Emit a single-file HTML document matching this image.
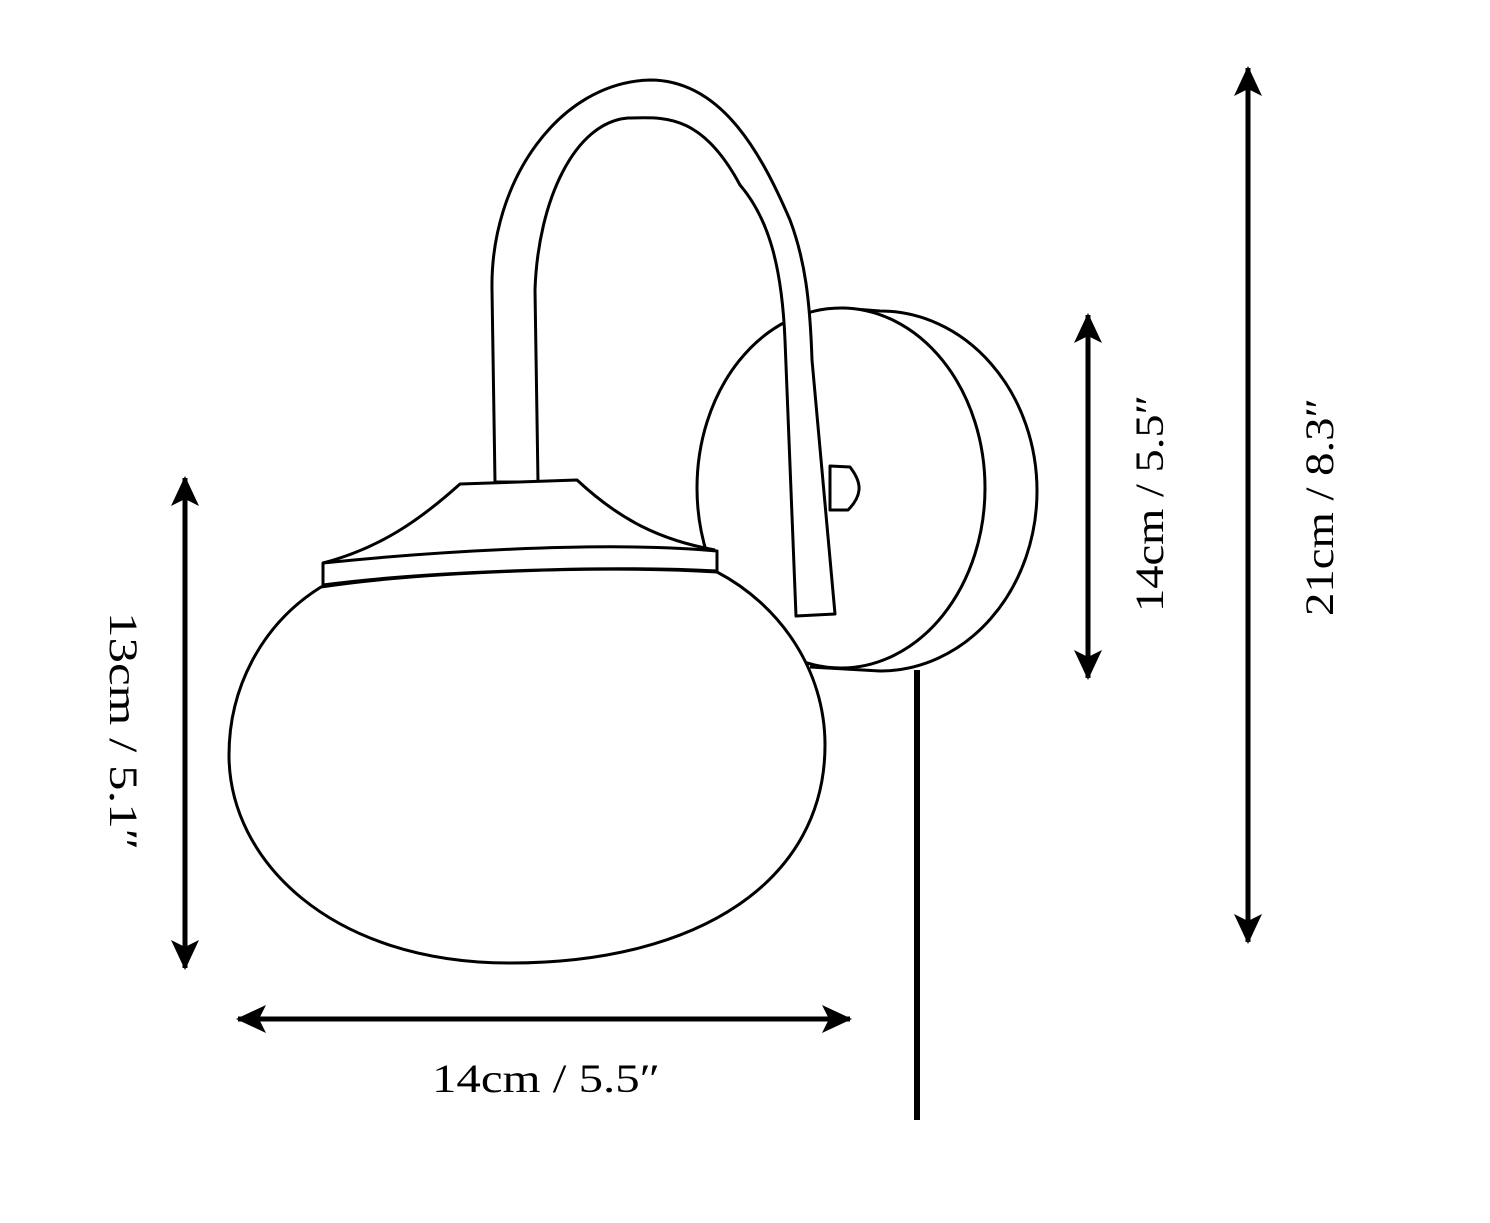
<!DOCTYPE html>
<html><head><style>
html,body{margin:0;padding:0;background:#fff;}
svg{display:block;}
text{font-family:"Liberation Serif",serif;font-size:40px;fill:#000;}
</style></head><body>
<svg width="1490" height="1223" viewBox="0 0 1490 1223" xmlns="http://www.w3.org/2000/svg">
<defs>
<marker id="ah" viewBox="0 0 30 28" refX="28" refY="14" markerWidth="30" markerHeight="28" markerUnits="userSpaceOnUse" orient="auto-start-reverse">
<path d="M0 0 L30 14 L0 28 L7 14 Z" fill="#000"/>
</marker>
</defs>
<g fill="none" stroke="#000" stroke-width="3" stroke-linejoin="round">
<!-- wall plate back -->
<path d="M841 308 L880 311 A157 180 0 0 1 880 671 L810 667" fill="#fff"/>
<ellipse cx="841" cy="488" rx="144" ry="180" fill="#fff"/>
<!-- knob -->
<path d="M830 466 L850 467 Q860 480 859 490 Q858 500 848 510 L830 510 Z" fill="#fff"/>
<!-- arm -->
<path d="M495 482 L492 290 C490 180 560 82 650 80 C720 80 760 150 790 220 C805 260 810 300 812 360 L835 614 L796 616 L785 340 C782 270 770 220 740 185 C700 110 660 118 628 118 C575 122 538 200 535 290 L538 482 Z" fill="#fff"/>
<!-- globe -->
<path d="M321 587 C260 625 229 690 229 755 C229 860 330 963 510 963 C700 963 825 880 825 745 C825 670 780 605 717 572 C600 565 420 572 321 587 Z" fill="#fff"/>
<!-- cap -->
<path d="M323 563 C380 548 420 520 460 484 L577 480 C620 520 660 540 715 550" fill="#fff"/>
<!-- band -->
<path d="M323 563 C420 553 600 540 717 551 L717 571 C600 565 420 572 323 585 Z" fill="#fff"/>
</g>
<!-- cord -->
<line x1="917" y1="670" x2="917" y2="1120" stroke="#000" stroke-width="6"/>
<!-- dimension arrows -->
<g stroke="#000" stroke-width="5">
<line x1="185" y1="478" x2="185" y2="968" marker-start="url(#ah)" marker-end="url(#ah)"/>
<line x1="238" y1="1019" x2="850" y2="1019" marker-start="url(#ah)" marker-end="url(#ah)"/>
<line x1="1088" y1="315" x2="1088" y2="678" marker-start="url(#ah)" marker-end="url(#ah)"/>
<line x1="1248" y1="68" x2="1248" y2="942" marker-start="url(#ah)" marker-end="url(#ah)"/>
</g>
<text x="432" y="1092" textLength="228" lengthAdjust="spacingAndGlyphs">14cm / 5.5″</text>
<text transform="translate(110 612) rotate(90)" textLength="238" lengthAdjust="spacingAndGlyphs">13cm / 5.1″</text>
<text transform="translate(1163 612) rotate(-90)" textLength="217" lengthAdjust="spacingAndGlyphs">14cm / 5.5″</text>
<text transform="translate(1333 616) rotate(-90)" textLength="218" lengthAdjust="spacingAndGlyphs">21cm / 8.3″</text>
</svg>
</body></html>
